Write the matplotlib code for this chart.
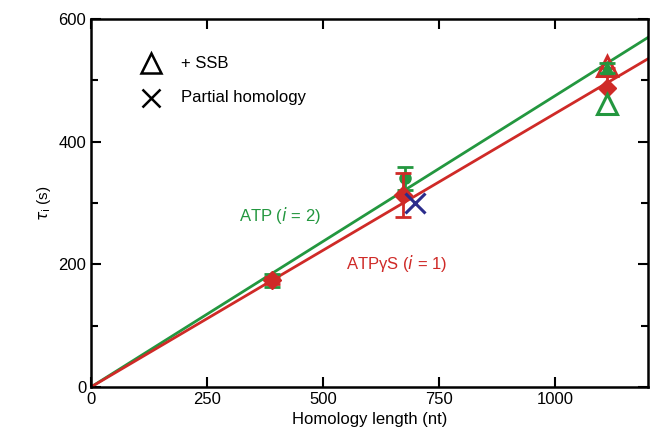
import numpy as np
import matplotlib
matplotlib.use('Agg')
import matplotlib.pyplot as plt
from matplotlib.ticker import MultipleLocator

plt.rcParams['font.family'] = ['Liberation Sans', 'DejaVu Sans']

green = '#23973f'
red = '#cf2a27'
blue = '#2b2c8c'

# ATP (i = 2) data
atp_x = [390, 676]
atp_y = [174, 340]
atp_err = [11, 18]
atp_slope = 0.475

# ATPgS (i = 1) data
atpgs_x = [390, 672, 1112]
atpgs_y = [174, 313, 487]
atpgs_err = [6, 36, 33]
atpgs_slope = 0.446

# + SSB points
ssb_atp_x = [1112, 1112]
ssb_atp_y = [520, 462]
ssb_atpgs_x = [1112]
ssb_atpgs_y = [524]

# partial homology
partial_x = [697]
partial_y = [300]

fig = plt.figure(figsize=(6.51, 4.43), dpi=100)
ax = fig.add_axes([0.1398, 0.1264, 0.8556, 0.8306])

xfit = np.array([0, 1200])
ax.plot(xfit, atp_slope * xfit, color=green, lw=2, zorder=2)
ax.plot(xfit, atpgs_slope * xfit, color=red, lw=2, zorder=2)

ax.errorbar(atp_x, atp_y, yerr=atp_err, fmt='o', color=green, ms=8,
            capsize=6, capthick=2, elinewidth=2, zorder=3)
ax.errorbar(atpgs_x, atpgs_y, yerr=atpgs_err, fmt='D', color=red, ms=9,
            capsize=6, capthick=2, elinewidth=2, zorder=4)

# ssb triangles
ax.plot(ssb_atpgs_x, ssb_atpgs_y, '^', mfc='none', mec=red, mew=2.2, ms=14, zorder=5)
ax.plot(ssb_atp_x[:1], ssb_atp_y[:1], '^', color=green, ms=8, zorder=5)
ax.errorbar(ssb_atp_x[:1], ssb_atp_y[:1], yerr=[8], fmt='none', ecolor=green,
            capsize=6, capthick=2, elinewidth=2, zorder=5)
ax.plot(ssb_atp_x[1:], ssb_atp_y[1:], '^', mfc='white', mec=green, mew=2.2, ms=14, zorder=5)

ax.plot(partial_x, partial_y, 'x', color=blue, ms=14, mew=2.2, zorder=6)

# legend drawn as markers + text
ax.plot([129], [528], '^', mfc='none', mec='black', mew=1.8, ms=15)
ax.plot([129], [472], 'x', color='black', ms=13, mew=1.8)
ax.text(193, 528, '+ SSB', fontsize=12, va='center', ha='left')
ax.text(193, 472, 'Partial homology', fontsize=12, va='center', ha='left')

ax.text(408, 280, 'ATP ($\\mathit{i}$ = 2)', color=green, fontsize=12,
        ha='center', va='center')
ax.text(549, 202, 'ATP\u03b3S ($\\mathit{i}$ = 1)', color=red, fontsize=12,
        ha='left', va='center')

ax.set_xlim(0, 1200)
ax.set_ylim(0, 600)
ax.xaxis.set_major_locator(MultipleLocator(250))
ax.yaxis.set_major_locator(MultipleLocator(200))
ax.yaxis.set_minor_locator(MultipleLocator(100))
ax.tick_params(which='both', direction='in', top=True, right=True, width=1.5,
               labelsize=12)
ax.tick_params(which='major', length=7)
ax.tick_params(which='minor', length=5)
for s in ax.spines.values():
    s.set_linewidth(1.8)

ax.set_xlabel('Homology length (nt)', fontsize=12)
ax.set_ylabel('$\\tau_{\\mathrm{i}}$ (s)', fontsize=11)

fig.savefig('out.png', dpi=100)
plt.close(fig)
